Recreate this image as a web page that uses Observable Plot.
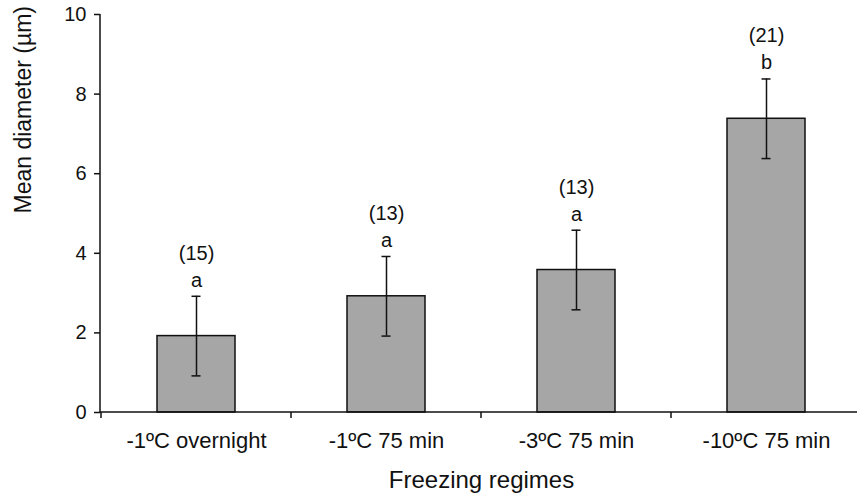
<!DOCTYPE html>
<html>
<head>
<meta charset="utf-8">
<script src="https://cdn.jsdelivr.net/npm/d3@7"></script>
<script src="https://cdn.jsdelivr.net/npm/@observablehq/plot@0.6"></script>
<style>
  html, body { margin: 0; padding: 0; background: #fff; overflow: hidden; }
  #chart svg { display: block; font-family: "Liberation Sans", Arial, sans-serif; }
</style>
</head>
<body>
<div id="chart"></div>
<script>
const categories = ["-1ºC overnight", "-1ºC 75 min", "-3ºC 75 min", "-10ºC 75 min"];
const means = [1.92, 2.92, 3.58, 7.38];
const errors = [1.0, 1.0, 1.0, 1.0];
const letters = ["a", "a", "a", "b"];
const counts = ["(15)", "(13)", "(13)", "(21)"];
const yTicks = [0, 2, 4, 6, 8, 10];
const xTitle = "Freezing regimes";
const yTitle = "Mean diameter (µm)";

const data = categories.map((c, i) => ({
  cat: c, mean: means[i], lo: means[i] - errors[i], hi: means[i] + errors[i],
  letter: letters[i], count: counts[i]
}));

// Axis lines and category-boundary ticks, drawn from the plot's own scales
function axisDecor(index, scales, values, dimensions) {
  const x = scales.x, y = scales.y;
  const {width, marginLeft, marginRight} = dimensions;
  const g = d3.create("svg:g").attr("stroke", "#111").attr("stroke-width", 1.5).attr("fill", "none");
  const bw = x.bandwidth();
  const step = x(categories[1]) - x(categories[0]);
  const y0 = y(0);
  g.append("line").attr("x1", marginLeft).attr("x2", width - marginRight).attr("y1", y0).attr("y2", y0);
  g.append("line").attr("x1", marginLeft).attr("x2", marginLeft).attr("y1", y(yTicks[yTicks.length - 1])).attr("y2", y0);
  const bounds = categories.map(c => x(c) + bw / 2 - step / 2);
  bounds.push(x(categories[categories.length - 1]) + bw / 2 + step / 2);
  for (const b of bounds) {
    g.append("line").attr("x1", b).attr("x2", b).attr("y1", y0).attr("y2", y0 + 6);
  }
  return g.node();
}

const plot = Plot.plot({
  width: 857,
  height: 497,
  marginLeft: 100,
  marginRight: -5,
  marginTop: 14,
  marginBottom: 85,
  style: {fontFamily: '"Liberation Sans", Arial, sans-serif', color: "#111", background: "#fff"},
  x: {domain: categories, paddingInner: 0.59, paddingOuter: 0.295, label: null},
  y: {domain: [0, 10], label: null},
  marks: [
    Plot.barY(data, {x: "cat", y: "mean", fill: "#a6a6a6", stroke: "#111", strokeWidth: 1.5}),
    Plot.ruleX(data, {x: "cat", y1: "lo", y2: "hi", stroke: "#111", strokeWidth: 1.5}),
    Plot.tickY(data, {x: "cat", y: "lo", stroke: "#111", strokeWidth: 1.5, insetLeft: 34.5, insetRight: 34.5}),
    Plot.tickY(data, {x: "cat", y: "hi", stroke: "#111", strokeWidth: 1.5, insetLeft: 34.5, insetRight: 34.5}),
    Plot.text(data, {x: "cat", y: "hi", text: "letter", dy: -16, fontSize: 20, fill: "#111", lineAnchor: "middle"}),
    Plot.text(data, {x: "cat", y: "hi", text: "count", dy: -43, fontSize: 20, fill: "#111", lineAnchor: "middle"}),
    Plot.axisY({ticks: yTicks, tickSize: 6, tickPadding: 8, fontSize: 20, label: null, strokeWidth: 1.5}),
    Plot.axisX({tickSize: 0, tickPadding: 20, fontSize: 22, label: null}),
    axisDecor,
    Plot.text([xTitle], {frameAnchor: "bottom", dy: 68, fontSize: 24, fill: "#111", lineAnchor: "middle"}),
    Plot.text([yTitle], {frameAnchor: "left", dx: -77, rotate: -90, fontSize: 23, fill: "#111", lineAnchor: "middle"})
  ]
});
document.getElementById("chart").append(plot);
</script>
</body>
</html>
